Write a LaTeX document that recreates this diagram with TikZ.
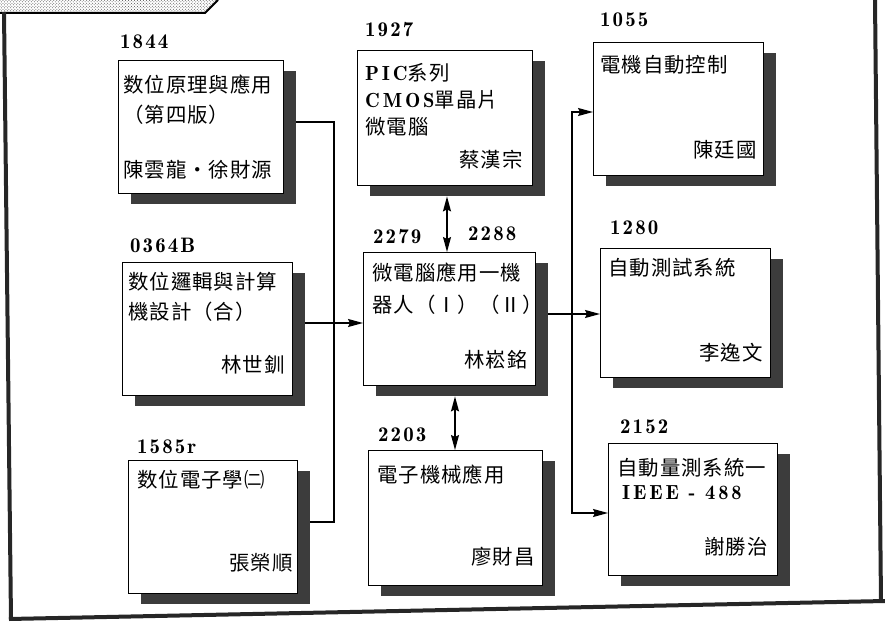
\documentclass[tikz,border=0pt]{standalone}
\usepackage{fontspec}
\newfontfamily\cjk{Noto Sans CJK TC}[LetterSpace=5]
\newfontfamily\numf{lmromandemi10-regular.otf}[LetterSpace=10]
\newfontfamily\latf{lmromandemi10-regular.otf}[LetterSpace=14]
\usetikzlibrary{arrows.meta,patterns}
\pgfdeclarelayer{bg}
\pgfsetlayers{bg,main}
\definecolor{shadowgray}{HTML}{3C3C3C}
\tikzset{
  bx/.style={draw=black, line width=1.2bp, fill=white, anchor=north west, inner sep=0pt},
  shd/.style={fill=shadowgray, draw=none, anchor=north west, inner sep=0pt},
  conn/.style={line width=1.4bp, draw=black},
  arr/.style={conn, -{Stealth[length=15bp,width=8bp,inset=2bp]}},
  dbl/.style={conn, {Stealth[length=15bp,width=8bp,inset=2bp]}-{Stealth[length=15bp,width=8bp,inset=2bp]}},
  lbl/.style={anchor=west, inner sep=0pt, font={\numf\fontsize{21}{24}\selectfont}},
  ttl/.style={anchor=west, inner sep=0pt, font={\cjk\fontsize{20.5}{24}\selectfont}},
  aut/.style={anchor=east, inner sep=0pt, font={\cjk\fontsize{20.5}{24}\selectfont}},
  frame/.style={line width=4bp, draw=black!85},
}
\newcommand\mybox[5]{%
  \pgfmathsetmacro\bw{#4-#2}%
  \pgfmathsetmacro\bh{#5-#3}%
  \node[shd, minimum width=\bw bp, minimum height=\bh bp] (s#1) at (#2+13,#3+11) {};
  \node[bx, minimum width=\bw bp, minimum height=\bh bp] (b#1) at (#2,#3) {};
}
\begin{document}
\begin{tikzpicture}[x=1bp,y=-1bp]
\useasboundingbox (0,0) rectangle (885,622);

% frame
\fill[pattern=crosshatch dots, pattern color=black!70] (0,0) -- (218,0) -- (205,13) -- (0,13) -- cycle;
\draw[line width=2bp] (0,13) -- (205,13) -- (218,0);
\draw[frame] (4,12) -- (11,620);
\draw[frame] (875,0) -- (881,602);
\draw[frame] (9,619) -- (885,601);

% boxes
\mybox{1844}{118}{60}{283}{193}
\mybox{1927}{357}{50}{532}{185}
\mybox{1055}{593}{42}{763}{175}
\mybox{0364}{122}{262}{292}{395}
\mybox{2279}{363}{252}{535}{385}
\mybox{1280}{600}{248}{770}{377}
\mybox{1585}{128}{460}{297}{593}
\mybox{2203}{368}{450}{542}{585}
\mybox{2152}{608}{443}{777}{575}

% texts
\node[lbl] (n1844) at (120,42) {1844};
\node[ttl] (t1844a) at (123,85) {数位原理與應用};
\node[ttl] (t1844b) at (123,115) {（第四版）};
\node[ttl] (t1844c) at (123,170) {陳雲龍・徐財源};

\node[lbl] (n1927) at (365,30) {1927};
\node[ttl] (t1927a) at (365,73) {{\latf PIC}系列};
\node[ttl] (t1927b) at (365,100) {{\latf CMOS}單晶片};
\node[ttl] (t1927c) at (365,127) {微電腦};
\node[aut] (t1927d) at (523,160) {蔡漢宗};

\node[lbl] (n1055) at (600,20) {1055};
\node[ttl] (t1055a) at (600,65) {電機自動控制};
\node[aut] (t1055b) at (757,150) {陳廷國};

\node[lbl] (n0364) at (130,245) {0364B};
\node[ttl] (t0364a) at (128,282) {数位邏輯與計算};
\node[ttl] (t0364b) at (128,312) {機設計（合）};
\node[aut] (t0364c) at (285,365) {林世釧};

\node[lbl] (n2279) at (373,237) {2279};
\node[lbl] (n2288) at (468,234) {2288};
\node[ttl] (t2279a) at (372,273) {微電腦應用一機};
\node[ttl] (t2279b) at (372,305) {器人（Ⅰ）（Ⅱ）};
\node[aut] (t2279c) at (528,360) {林崧銘};

\node[lbl] (n1280) at (610,228) {1280};
\node[ttl] (t1280a) at (608,268) {自動測試系統};
\node[aut] (t1280b) at (763,353) {李逸文};

\node[lbl] (n1585) at (137,447) {1585r};
\node[ttl] (t1585a) at (137,480) {数位電子學㈡};
\node[aut] (t1585b) at (293,563) {張榮順};

\node[lbl] (n2203) at (378,435) {2203};
\node[ttl] (t2203a) at (377,475) {電子機械應用};
\node[aut] (t2203b) at (535,557) {廖財昌};

\node[lbl] (n2152) at (620,427) {2152};
\node[ttl] (t2152a) at (617,468) {自動量測系統一};
\node[ttl, font={\latf\fontsize{20.5}{24}\selectfont}] (t2152b) at (622,493) {IEEE - 488};
\node[aut] (t2152c) at (768,547) {謝勝治};

% connectors
\coordinate (L1) at (334,122);
\coordinate (L2) at (334,522);
\coordinate (L3) at (334,323);
\coordinate (R1) at (572,112);
\coordinate (R2) at (572,513);
\coordinate (R3) at (572,314);
\coordinate (A1) at (447,0);
\coordinate (A2) at (455,0);
\begin{pgfonlayer}{bg}
\draw[conn] (b1844.east |- L1) -- (L1) -- (L2) -- (b1585.east |- L2);
\draw[arr] (b0364.east |- L3) -- (b2279.west |- L3);
\draw[arr] (R2) -- (R1) -- (b1055.west |- R1);
\draw[arr] (R1) -- (R2) -- (b2152.west |- R2);
\draw[arr] (b2279.east |- R3) -- (b1280.west |- R3);
\draw[dbl] (s1927.south -| A1) -- (b2279.north -| A1);
\draw[dbl] (s2279.south -| A2) -- (b2203.north -| A2);
\end{pgfonlayer}
\end{tikzpicture}
\end{document}
